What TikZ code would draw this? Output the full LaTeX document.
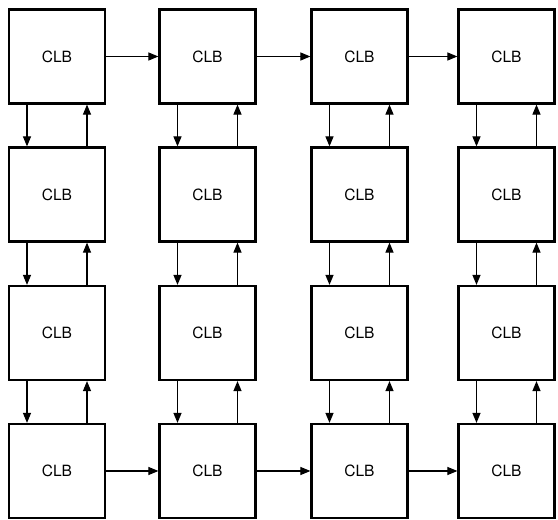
\documentclass[tikz,border=0pt]{standalone}
\usepackage{fontspec}
\setmainfont{TeX Gyre Heros}
\usetikzlibrary{arrows.meta}

\begin{document}
\begin{tikzpicture}[x=1pt, y=1pt,
  clb/.style={draw, line width=2.2pt, minimum width=96pt, minimum height=94pt, inner sep=0pt, font=\fontsize{15.5}{18}\selectfont},
  link/.style={-{Triangle[length=10pt,width=8pt]}, line width=1.1pt}]
\useasboundingbox (0,0) rectangle (558,520);

% CLB grid (columns a..d, rows 1..4 from the top)
\foreach \col/\x in {a/57,b/207.5,c/359.5,d/506.5}
  \foreach \row/\y in {1/463.5,2/325.5,3/187,4/49}
    \node[clb] (\col\row) at (\x,\y) {CLB};

% Vertical links (down on the left, up on the right)
\foreach \col in {a,b,c,d}
  \foreach \row/\next in {1/2,2/3,3/4} {
    \draw[link] ([xshift=-30pt]\col\row.south) -- ([xshift=-30pt]\col\next.north);
    \draw[link] ([xshift=30pt]\col\next.north) -- ([xshift=30pt]\col\row.south);
  }

% Horizontal links, top and bottom rows
\foreach \from/\to in {a/b,b/c,c/d} {
  \draw[link] (\from1.east) -- (\to1.west);
  \draw[link] (\from4.east) -- (\to4.west);
}

\end{tikzpicture}
\end{document}
